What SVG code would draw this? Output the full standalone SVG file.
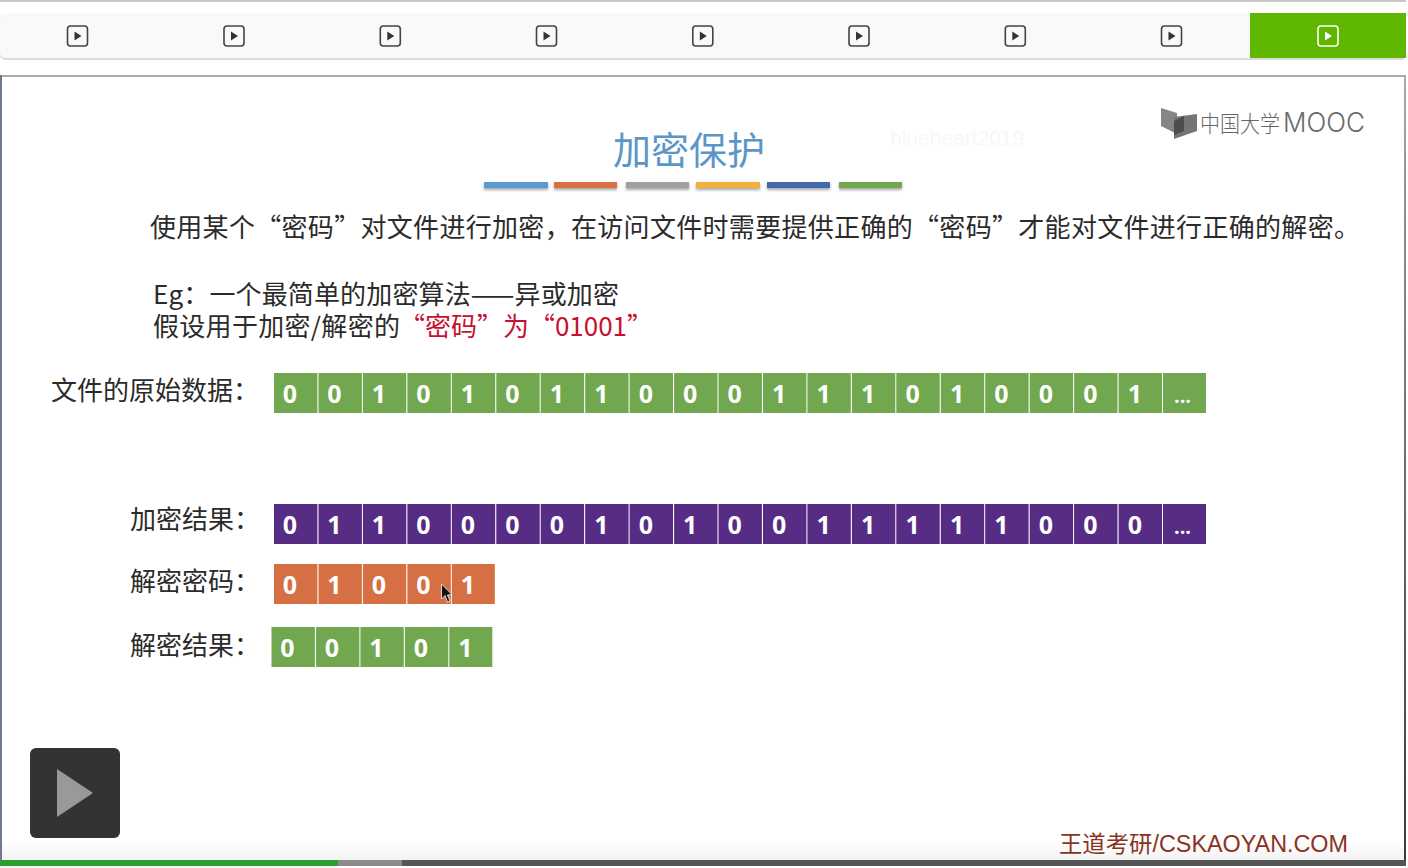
<svg xmlns="http://www.w3.org/2000/svg" width="1408" height="868" viewBox="0 0 1408 868">
<defs>
<style>
text{font-family:"Noto Sans CJK SC","Liberation Sans",sans-serif}
.t{font-size:26px;fill:#2b2b2b;font-weight:400}
.r{fill:#c8102e}
.b{font-size:25px;font-weight:700;fill:#fff;text-anchor:middle;font-family:"Open Sans","Noto Sans",sans-serif}
.d{font-size:20px}
.g{fill:#70a74f}.p{fill:#572c85}.o{fill:#d66f43}
.ic{fill:none;stroke:#444;stroke-width:1.6}
.tr{fill:#333}
</style>
<filter id="sh" x="-5%" y="-50%" width="110%" height="250%"><feDropShadow dx="0" dy="2" stdDeviation="1.5" flood-color="#000" flood-opacity=".35"/></filter>
<linearGradient id="fade" x1="0" y1="0" x2="0" y2="1"><stop offset="0" stop-color="#fff"/><stop offset="1" stop-color="#f3f3f3"/></linearGradient>
<linearGradient id="edge" x1="0" y1="0" x2="0" y2="1"><stop offset="0" stop-color="#a9a9ae"/><stop offset=".2" stop-color="#8a8a90"/><stop offset="1" stop-color="#3c3c40"/></linearGradient>
<g id="tab"><rect x="-10" y="-10" width="20" height="20" rx="3" class="ic"/><path d="M-3-4.500 4 0-3 4.500z" class="tr"/></g>
</defs>
<rect width="1408" height="868" fill="#fff"/>
<rect width="1406" height="2" fill="#c8c8c8"/>
<g id="toolbar">
<rect x="0" y="14" width="1406" height="46" rx="5" fill="#dcdcdc"/>
<rect x="0" y="13" width="1406" height="45" rx="5" fill="#f9f9f9"/>
<rect x="1250" y="13" width="156" height="45" fill="#5fb700"/>
<use href="#tab" x="77.500" y="36"/><use href="#tab" x="234" y="36"/><use href="#tab" x="390.300" y="36"/><use href="#tab" x="546.500" y="36"/><use href="#tab" x="702.800" y="36"/><use href="#tab" x="859" y="36"/><use href="#tab" x="1015.300" y="36"/><use href="#tab" x="1171.500" y="36"/>
<rect x="1318" y="26" width="20" height="20" rx="3" fill="none" stroke="#fff" stroke-width="1.600"/><path d="M1325 31.500 1332 36 1325 40.500z" fill="#fff"/>
</g>
<g id="slide">
<rect x="0" y="75" width="2" height="785" fill="#6f7894"/>
<rect x="1404" y="75" width="2" height="785" fill="url(#edge)"/>
<rect x="2" y="75" width="1402" height="2" fill="#a9a9ae"/>
<rect x="2" y="840" width="1402" height="20" fill="url(#fade)"/>
</g>
<g id="logo">
<path d="M1161 108 1177 113V134L1161 126z" fill="#868686"/>
<path d="M1174 117 1197 114V131L1174 139z" fill="#757575"/>
<path d="M1174 121 1184 116V131L1174 135z" fill="#4d4d4d"/>
<text x="1200" y="132" font-size="23" fill="#666" font-weight="300" textLength="80" lengthAdjust="spacingAndGlyphs">中国大学</text>
<text x="1283" y="132" font-size="27" fill="#6a6a6a" font-weight="300" style="font-family:Inter,sans-serif" textLength="82" lengthAdjust="spacingAndGlyphs">MOOC</text>
</g>
<text x="890" y="145" font-size="21" fill="#f7f7f7" style="font-family:'Liberation Sans',sans-serif">blueheart2019</text>
<g id="title">
<text x="689" y="164" font-size="38" fill="#5b96c8" text-anchor="middle" font-weight="400">加密保护</text>
<g filter="url(#sh)">
<rect x="484" y="182" width="64" height="6" fill="#5b9bd0"/>
<rect x="554" y="182" width="63" height="6" fill="#d96f43"/>
<rect x="626" y="182" width="63" height="6" fill="#a0a0a0"/>
<rect x="696" y="182" width="64" height="6" fill="#f2b13c"/>
<rect x="767" y="182" width="63" height="6" fill="#4268ae"/>
<rect x="839" y="182" width="63" height="6" fill="#70a74f"/>
</g>
</g>
<g id="body">
<text class="t" x="150" y="237" textLength="1210" lengthAdjust="spacing">使用某个“密码”对文件进行加密，在访问文件时需要提供正确的“密码”才能对文件进行正确的解密。</text>
<text class="t" x="153" y="304" textLength="466" lengthAdjust="spacing">Eg：一个最简单的加密算法——异或加密</text>
<text class="t" x="153" y="336" textLength="247" lengthAdjust="spacing">假设用于加密/解密的</text>
<text class="t r" x="399" y="336" textLength="254" lengthAdjust="spacing">“密码”为“01001”</text>
<text class="t" x="51" y="400">文件的原始数据：</text>
<text class="t" x="130" y="529">加密结果：</text>
<text class="t" x="130" y="591">解密密码：</text>
<text class="t" x="130" y="655">解密结果：</text>
</g>
<g id="row-original">
<rect class="g" x="274" y="373" width="43.400" height="40"/><text class="b" x="290" y="403">0</text>
<rect class="g" x="318.500" y="373" width="43.400" height="40"/><text class="b" x="334.500" y="403">0</text>
<rect class="g" x="362.900" y="373" width="43.400" height="40"/><text class="b" x="379" y="403">1</text>
<rect class="g" x="407.400" y="373" width="43.400" height="40"/><text class="b" x="423.400" y="403">0</text>
<rect class="g" x="451.800" y="373" width="43.400" height="40"/><text class="b" x="467.900" y="403">1</text>
<rect class="g" x="496.300" y="373" width="43.400" height="40"/><text class="b" x="512.400" y="403">0</text>
<rect class="g" x="540.700" y="373" width="43.400" height="40"/><text class="b" x="556.800" y="403">1</text>
<rect class="g" x="585.200" y="373" width="43.400" height="40"/><text class="b" x="601.300" y="403">1</text>
<rect class="g" x="629.600" y="373" width="43.400" height="40"/><text class="b" x="645.800" y="403">0</text>
<rect class="g" x="674.100" y="373" width="43.400" height="40"/><text class="b" x="690.200" y="403">0</text>
<rect class="g" x="718.500" y="373" width="43.400" height="40"/><text class="b" x="734.700" y="403">0</text>
<rect class="g" x="763" y="373" width="43.400" height="40"/><text class="b" x="779.200" y="403">1</text>
<rect class="g" x="807.400" y="373" width="43.400" height="40"/><text class="b" x="823.600" y="403">1</text>
<rect class="g" x="851.900" y="373" width="43.400" height="40"/><text class="b" x="868.100" y="403">1</text>
<rect class="g" x="896.300" y="373" width="43.400" height="40"/><text class="b" x="912.600" y="403">0</text>
<rect class="g" x="940.800" y="373" width="43.400" height="40"/><text class="b" x="957.100" y="403">1</text>
<rect class="g" x="985.200" y="373" width="43.400" height="40"/><text class="b" x="1001.500" y="403">0</text>
<rect class="g" x="1029.700" y="373" width="43.400" height="40"/><text class="b" x="1046" y="403">0</text>
<rect class="g" x="1074.100" y="373" width="43.400" height="40"/><text class="b" x="1090.500" y="403">0</text>
<rect class="g" x="1118.600" y="373" width="43.400" height="40"/><text class="b" x="1134.900" y="403">1</text>
<rect class="g" x="1163" y="373" width="43" height="40"/><text class="b d" x="1182.500" y="403">...</text>
</g>
<g id="row-encrypted">
<rect class="p" x="274" y="504" width="43.400" height="40"/><text class="b" x="290" y="534">0</text>
<rect class="p" x="318.500" y="504" width="43.400" height="40"/><text class="b" x="334.500" y="534">1</text>
<rect class="p" x="362.900" y="504" width="43.400" height="40"/><text class="b" x="379" y="534">1</text>
<rect class="p" x="407.400" y="504" width="43.400" height="40"/><text class="b" x="423.400" y="534">0</text>
<rect class="p" x="451.800" y="504" width="43.400" height="40"/><text class="b" x="467.900" y="534">0</text>
<rect class="p" x="496.300" y="504" width="43.400" height="40"/><text class="b" x="512.400" y="534">0</text>
<rect class="p" x="540.700" y="504" width="43.400" height="40"/><text class="b" x="556.800" y="534">0</text>
<rect class="p" x="585.200" y="504" width="43.400" height="40"/><text class="b" x="601.300" y="534">1</text>
<rect class="p" x="629.600" y="504" width="43.400" height="40"/><text class="b" x="645.800" y="534">0</text>
<rect class="p" x="674.100" y="504" width="43.400" height="40"/><text class="b" x="690.200" y="534">1</text>
<rect class="p" x="718.500" y="504" width="43.400" height="40"/><text class="b" x="734.700" y="534">0</text>
<rect class="p" x="763" y="504" width="43.400" height="40"/><text class="b" x="779.200" y="534">0</text>
<rect class="p" x="807.400" y="504" width="43.400" height="40"/><text class="b" x="823.600" y="534">1</text>
<rect class="p" x="851.900" y="504" width="43.400" height="40"/><text class="b" x="868.100" y="534">1</text>
<rect class="p" x="896.300" y="504" width="43.400" height="40"/><text class="b" x="912.600" y="534">1</text>
<rect class="p" x="940.800" y="504" width="43.400" height="40"/><text class="b" x="957.100" y="534">1</text>
<rect class="p" x="985.200" y="504" width="43.400" height="40"/><text class="b" x="1001.500" y="534">1</text>
<rect class="p" x="1029.700" y="504" width="43.400" height="40"/><text class="b" x="1046" y="534">0</text>
<rect class="p" x="1074.100" y="504" width="43.400" height="40"/><text class="b" x="1090.500" y="534">0</text>
<rect class="p" x="1118.600" y="504" width="43.400" height="40"/><text class="b" x="1134.900" y="534">0</text>
<rect class="p" x="1163" y="504" width="43" height="40"/><text class="b d" x="1182.500" y="534">...</text>
</g>
<g id="row-key">
<rect class="o" x="274" y="564" width="43.400" height="40"/><text class="b" x="290" y="594">0</text>
<rect class="o" x="318.500" y="564" width="43.400" height="40"/><text class="b" x="334.500" y="594">1</text>
<rect class="o" x="362.900" y="564" width="43.400" height="40"/><text class="b" x="379" y="594">0</text>
<rect class="o" x="407.400" y="564" width="43.400" height="40"/><text class="b" x="423.400" y="594">0</text>
<rect class="o" x="451.800" y="564" width="43" height="40"/><text class="b" x="467.900" y="594">1</text>
</g>
<g id="row-decrypted">
<rect class="g" x="271.500" y="627" width="43.400" height="40"/><text class="b" x="287.500" y="657">0</text>
<rect class="g" x="316" y="627" width="43.400" height="40"/><text class="b" x="332" y="657">0</text>
<rect class="g" x="360.400" y="627" width="43.400" height="40"/><text class="b" x="376.500" y="657">1</text>
<rect class="g" x="404.900" y="627" width="43.400" height="40"/><text class="b" x="420.900" y="657">0</text>
<rect class="g" x="449.300" y="627" width="43" height="40"/><text class="b" x="465.400" y="657">1</text>
</g>
<path id="cursor" d="M441.500 584V599L445 595.500 447.500 602 450 601 447.500 595 452 594.500z" fill="#111" stroke="#fff" stroke-width=".8"/>
<g id="play">
<rect x="30" y="748" width="90" height="90" rx="6" fill="#333"/>
<path d="M57 769 93 793 57 817z" fill="#999"/>
</g>
<text id="footer" x="1059" y="852" font-size="23" fill="#8a3324" style="font-family:'Liberation Sans','Noto Sans CJK SC',sans-serif" textLength="289" lengthAdjust="spacingAndGlyphs">王道考研/CSKAOYAN.COM</text>
<g id="progress">
<rect x="0" y="860" width="1406" height="6" fill="#555"/>
<rect x="0" y="860" width="338" height="6" fill="#2ca02c"/>
<rect x="338" y="860" width="64" height="6" fill="#8a8a8a"/>
</g>
</svg>
